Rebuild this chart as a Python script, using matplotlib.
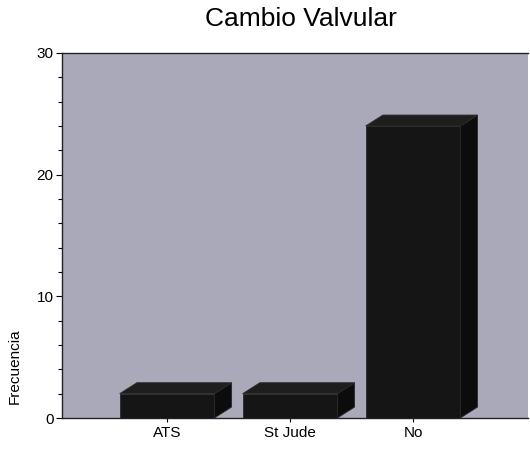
import numpy as np
import matplotlib
matplotlib.use("Agg")
import matplotlib.pyplot as plt
from matplotlib.patches import Polygon
from matplotlib.ticker import MultipleLocator

# --- Data ---
categories = ["ATS", "St Jude", "No"]
frequencies = [2, 2, 24]

# --- Style ---
BG = "#aaa9ba"
BAR = "#151515"
SIDE = "#0c0c0c"
TOP = "#1e1e1e"
BAR_W = 0.77
DX = 0.14   # depth offset in x data units
DY = 0.9    # depth offset in y data units

plt.rcParams["font.family"] = ["Liberation Sans", "DejaVu Sans"]

fig = plt.figure(figsize=(5.30, 4.49), dpi=100)
ax = fig.add_axes([62 / 530, 1 - 418 / 449, (528 - 62) / 530, (418 - 53) / 449])
ax.set_facecolor(BG)

x = np.arange(len(categories))
for xi, h in zip(x, frequencies):
    x0, x1 = xi - BAR_W / 2, xi + BAR_W / 2
    front = Polygon([(x0, 0), (x1, 0), (x1, h), (x0, h)], closed=True,
                    facecolor=BAR, edgecolor="#2a2a2a", lw=0.6, zorder=3)
    side = Polygon([(x1, 0), (x1 + DX, DY), (x1 + DX, h + DY), (x1, h)], closed=True,
                   facecolor=SIDE, edgecolor="#2a2a2a", lw=0.6, zorder=3)
    top = Polygon([(x0, h), (x0 + DX, h + DY), (x1 + DX, h + DY), (x1, h)], closed=True,
                  facecolor=TOP, edgecolor="#2a2a2a", lw=0.6, zorder=3)
    for p in (side, top, front):
        ax.add_patch(p)

ax.set_xlim(-0.854, 2.935)
ax.set_ylim(0, 30)
ax.set_xticks(x)
ax.set_xticklabels(categories, fontsize=11)
ax.yaxis.set_major_locator(MultipleLocator(10))
ax.yaxis.set_minor_locator(MultipleLocator(2))
ax.tick_params(axis="y", which="major", length=4, width=0.8, labelsize=11, pad=2)
ax.tick_params(axis="y", which="minor", length=3, width=0.8)
ax.tick_params(axis="x", length=3, width=0.8, pad=3)

for s in ["left", "bottom", "top"]:
    ax.spines[s].set_color("#222222")
    ax.spines[s].set_linewidth(1.0)
ax.spines["right"].set_visible(False)

fig.text(301 / 530, 1 - 19 / 449, "Cambio Valvular", ha="center", va="center", fontsize=19)
fig.text(15 / 530, 1 - 366 / 449, "Frecuencia", ha="center", va="center",
         rotation=90, fontsize=11)

fig.savefig("out.png", dpi=100, facecolor="white")
